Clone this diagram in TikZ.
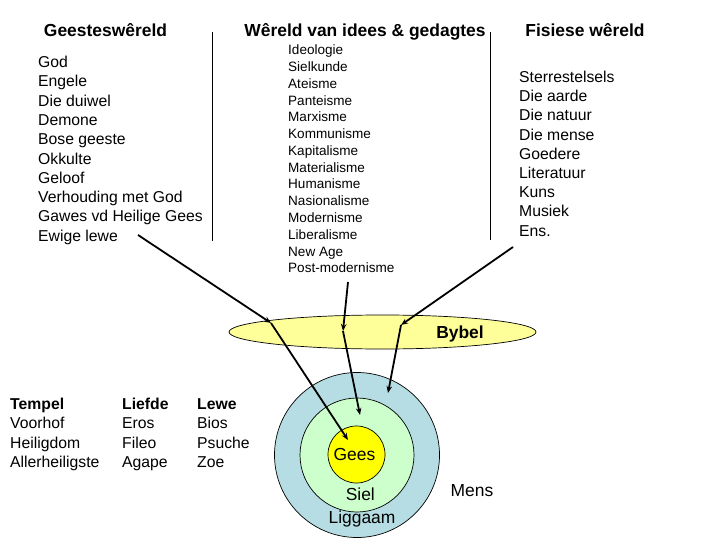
\documentclass[tikz,border=0pt]{standalone}
\usepackage{fontspec}
\setmainfont{Liberation Sans}
\usetikzlibrary{arrows.meta}
\definecolor{ringblue}{HTML}{B6DDE3}
\definecolor{ringgreen}{HTML}{CCFFCC}
\definecolor{coreyellow}{HTML}{FFFF00}
\definecolor{biblefill}{HTML}{FFFF99}
\tikzset{
  head/.style={anchor=base, inner sep=0pt, font=\fontsize{17.5}{20}\selectfont\bfseries},
  item/.style={anchor=base west, inner sep=0pt, font=\fontsize{15.8}{19}\selectfont},
  smallitem/.style={anchor=base west, inner sep=0pt, font=\fontsize{13.6}{16}\selectfont},
  bolditem/.style={anchor=base west, inner sep=0pt, font=\fontsize{15.8}{19}\selectfont\bfseries},
  ringlabel/.style={anchor=base, inner sep=0pt, font=\fontsize{17.5}{20}\selectfont},
  divider/.style={draw=black, line width=0.9bp},
  ring/.style={draw=black, line width=0.7bp},
  influence/.style={draw=black, line width=1.8bp, -{Stealth[length=7bp,width=5.5bp]}},
}
\begin{document}
\begin{tikzpicture}[x=1bp,y=-1bp]
\useasboundingbox (0,0) rectangle (720,540);

% headers
\node[head] (h1) at (105.5,36.3) {Geesteswêreld};
\node[head] (h2) at (365,36.3) {Wêreld van idees \& gedagtes};
\node[head] (h3) at (585,36.3) {Fisiese wêreld};

% dividers
\coordinate (d1t) at (212,32);
\coordinate (d1b) at (212,241);
\coordinate (d2t) at (490,32);
\coordinate (d2b) at (490,240);
\draw[divider] (d1t) -- (d1b);
\draw[divider] (d2t) -- (d2b);

% left list
\foreach \t [count=\i from 0] in {God,Engele,Die duiwel,Demone,Bose geeste,Okkulte,Geloof,Verhouding met God,Gawes vd Heilige Gees,Ewige lewe}
  \node[item] (L\i) at (38,67.6+19.3*\i) {\t};

% middle list
\foreach \t [count=\i from 0] in {Ideologie,Sielkunde,Ateisme,Panteisme,Marxisme,Kommunisme,Kapitalisme,Materialisme,Humanisme,Nasionalisme,Modernisme,Liberalisme,New Age,Post-modernisme}
  \node[smallitem] (M\i) at (288,54.8+16.77*\i) {\t};

% right list
\foreach \t [count=\i from 0] in {Sterrestelsels,Die aarde,Die natuur,Die mense,Goedere,Literatuur,Kuns,Musiek,Ens.}
  \node[item] (R\i) at (519,82.6+19.2*\i) {\t};

% Bybel ellipse
\draw[ring, fill=biblefill] (382.5,332) ellipse [x radius=153.5, y radius=17];
\node[ringlabel, font=\fontsize{17.5}{20}\selectfont\bfseries] (bybel) at (460,338.3) {Bybel};

% Mens rings
\draw[ring, fill=ringblue] (357,455) circle [radius=82.5];
\draw[ring, fill=ringgreen] (357,455) circle [radius=57];
\draw[ring, fill=coreyellow] (356.5,454.5) circle [radius=28.5];
\node[ringlabel] (gees) at (354.5,460.2) {Gees};
\node[ringlabel] (siel) at (360.3,500.7) {Siel};
\node[ringlabel] (liggaam) at (362,523) {Liggaam};
\node[ringlabel] (mens) at (472,496.7) {Mens};

% bottom table
\node[bolditem] (T0) at (10,409.5) {Tempel};
\node[item] (T1) at (10,428.8) {Voorhof};
\node[item] (T2) at (10,448.1) {Heiligdom};
\node[item] (T3) at (10,467.4) {Allerheiligste};
\node[bolditem] (F0) at (122,409.5) {Liefde};
\node[item] (F1) at (122,428.8) {Eros};
\node[item] (F2) at (122,448.1) {Fileo};
\node[item] (F3) at (122,467.4) {Agape};
\node[bolditem] (W0) at (197,409.5) {Lewe};
\node[item] (W1) at (197,428.8) {Bios};
\node[item] (W2) at (197,448.1) {Psuche};
\node[item] (W3) at (197,467.4) {Zoe};

% arrows
\coordinate (a1s) at (138,235);
\coordinate (a1m) at (271,323);
\coordinate (a1e) at (348,440);
\coordinate (a2s) at (348,282);
\coordinate (a2m) at (343,331);
\coordinate (a2e) at (360,415);
\coordinate (a3s) at (513,247);
\coordinate (a3m) at (401,325);
\coordinate (a3e) at (388,393);
\draw[influence] (a1s) -- (a1m);
\draw[influence] (a1m) -- (a1e);
\draw[influence] (a2s) -- (a2m);
\draw[influence] (a2m) -- (a2e);
\draw[influence] (a3s) -- (a3m);
\draw[influence] (a3m) -- (a3e);
\end{tikzpicture}
\end{document}
